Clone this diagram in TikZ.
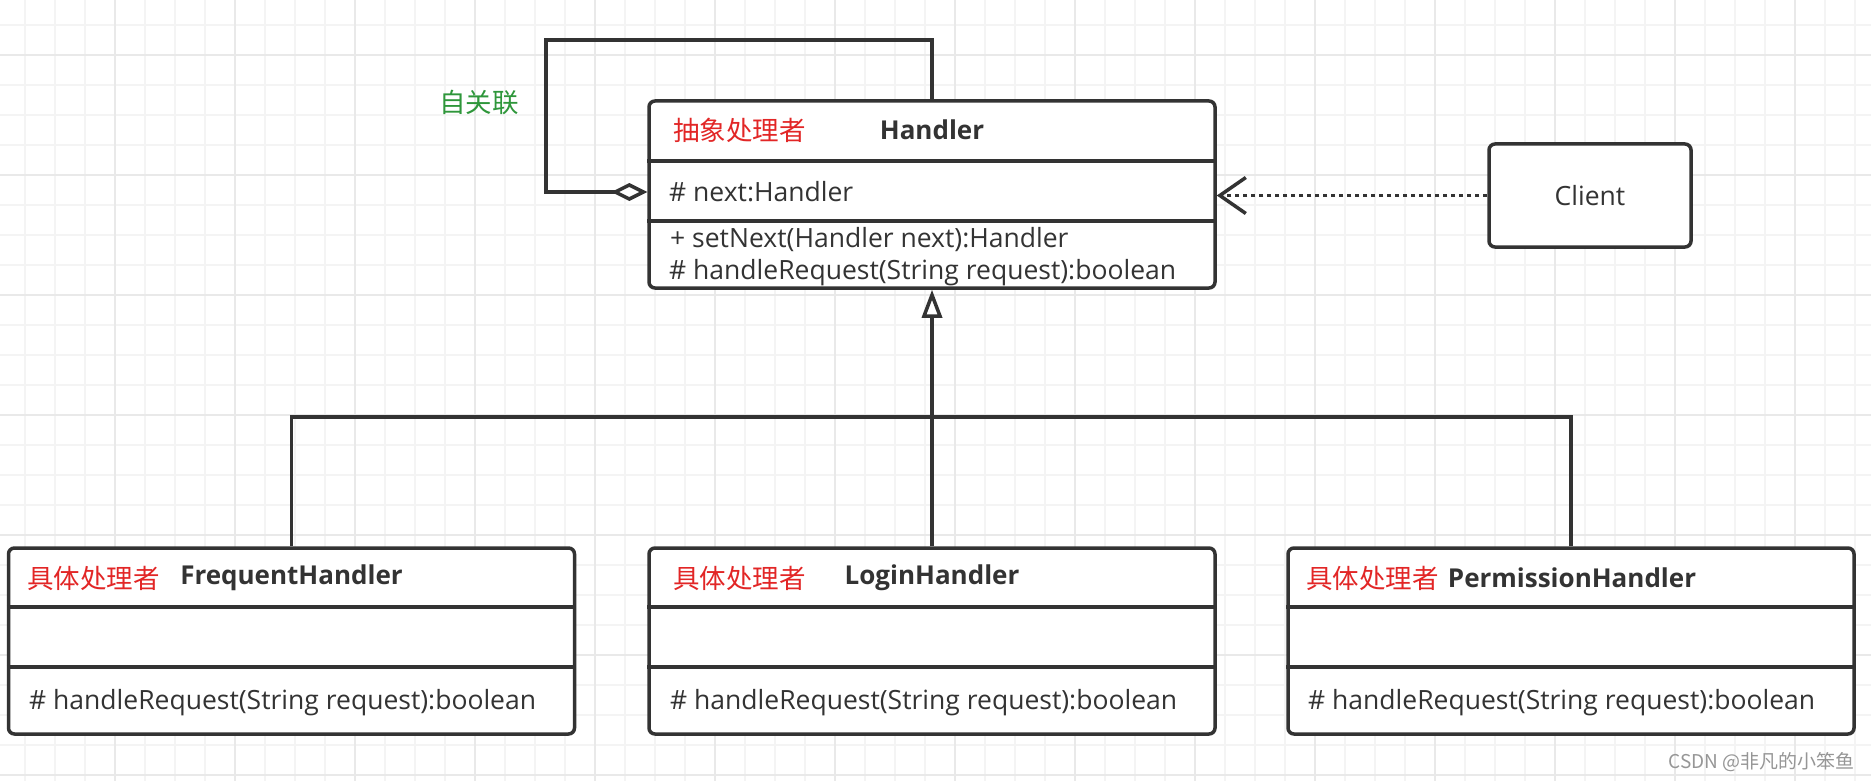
\documentclass[tikz,border=0pt]{standalone}
\usepackage{fontspec}
\setmainfont{Open Sans}
\newfontfamily\cjk{Noto Sans CJK SC}
\usetikzlibrary{arrows.meta,positioning,calc}
\definecolor{linegray}{RGB}{51,51,51}
\definecolor{labelred}{RGB}{226,38,38}
\definecolor{labelgreen}{RGB}{46,150,58}
\definecolor{gridminor}{RGB}{244,244,244}
\definecolor{gridmajor}{RGB}{233,233,233}
\definecolor{markgray}{RGB}{150,150,150}

\tikzset{
  classbox/.style={draw=linegray, line width=3.5pt, rounded corners=6pt, fill=white,
    minimum width=566pt, minimum height=187pt, inner sep=0pt},
  clientbox/.style={draw=linegray, line width=3.5pt, rounded corners=6pt, fill=white,
    minimum width=202pt, minimum height=103pt, inner sep=0pt, text=linegray,
    font=\fontsize{26.5}{32}\selectfont},
  divider/.style={draw=linegray, line width=3.5pt},
  kindlabel/.style={anchor=west, inner sep=0pt, text=labelred, font=\cjk\fontsize{26.5}{32}\selectfont},
  classname/.style={inner sep=0pt, text=linegray, font=\bfseries\fontsize{26}{32}\selectfont},
  member/.style={anchor=west, inner sep=0pt, text=linegray, font=\fontsize{26.5}{32}\selectfont},
  connector/.style={draw=linegray, line width=3.5pt},
}

\begin{document}
\begin{tikzpicture}[x=1pt, y=-1pt]
    \useasboundingbox (0,0) rectangle (1871,781);
    % Background grid
    \fill[white] (0,0) rectangle (1871,781);
    \foreach \gx in {25,55,...,1855} \draw[gridminor, line width=1.5pt] (\gx,0) -- (\gx,781);
    \foreach \gy in {25,55,...,775} \draw[gridminor, line width=1.5pt] (0,\gy) -- (1871,\gy);
    \foreach \gx in {115,235,...,1795} \draw[gridmajor, line width=1.5pt] (\gx,0) -- (\gx,781);
    \foreach \gy in {55,175,...,775} \draw[gridmajor, line width=1.5pt] (0,\gy) -- (1871,\gy);

    % Abstract handler
    \node[classbox] (handler) at (932,194.5) {};
    \draw[divider] (handler.west |- 0,161) -- (handler.east |- 0,161);
    \draw[divider] (handler.west |- 0,221) -- (handler.east |- 0,221);
    \node[kindlabel] (handlerKind) at (673,130) {抽象处理者};
    \node[classname] (handlerName) at (932,130) {Handler};
    \node[member] (handlerNext) at (669,192) {\# next:Handler};
    \node[member] (handlerSet) at (670,240) {+ setNext(Handler next):Handler};
    \node[member] (handlerReq) at (669,273) {\# handleRequest(String request):boolean};

    % Client
    \node[clientbox] (client) at (1590,195.5) {Client};

    % Concrete handlers
    \node[classbox, minimum height=186pt] (frequent) at (291.5,641) {};
    \draw[divider] (frequent.west |- 0,607) -- (frequent.east |- 0,607);
    \draw[divider] (frequent.west |- 0,667) -- (frequent.east |- 0,667);
    \node[kindlabel] (frequentKind) at (27,578) {具体处理者};
    \node[classname] (frequentName) at (291.5,578) {FrequentHandler};
    \node[member] (frequentReq) at (29,703) {\# handleRequest(String request):boolean};

    \node[classbox, minimum height=186pt] (login) at (932,641) {};
    \draw[divider] (login.west |- 0,607) -- (login.east |- 0,607);
    \draw[divider] (login.west |- 0,667) -- (login.east |- 0,667);
    \node[kindlabel] (loginKind) at (673,578) {具体处理者};
    \node[classname] (loginName) at (932,578) {LoginHandler};
    \node[member] (loginReq) at (670,703) {\# handleRequest(String request):boolean};

    \node[classbox, minimum height=186pt] (permission) at (1571,641) {};
    \draw[divider] (permission.west |- 0,607) -- (permission.east |- 0,607);
    \draw[divider] (permission.west |- 0,667) -- (permission.east |- 0,667);
    \node[kindlabel] (permissionKind) at (1306,578) {具体处理者};
    \node[classname] (permissionName) at (1572,578) {PermissionHandler};
    \node[member] (permissionReq) at (1308,703) {\# handleRequest(String request):boolean};

    % Self association
    \coordinate (loopTop) at (546,40);
    \draw[connector, -{Diamond[fill=white, length=36pt, width=18pt]}]
        (handler.north) |- (loopTop) |- (handler.west |- handlerNext);
    \node[inner sep=0pt, text=labelgreen, font=\cjk\fontsize{26.5}{32}\selectfont] (loopLabel) at (479,103) {自关联};

    % Dependency
    \draw[connector, dash pattern=on 4pt off 4pt, -{Straight Barb[length=26pt, width=36pt]}]
        (client.west) -- (handler.east |- client.west);

    % Generalisation
    \coordinate (junction) at (932,417);
    \draw[connector, -{Triangle[fill=white, length=28pt, width=20pt]}] (login.north) -- (handler.south);
    \draw[connector] (frequent.north) |- (junction) -| (permission.north);

    % Watermark
    \node[anchor=east, inner sep=0pt, text=markgray, font=\cjk\fontsize{19}{22}\selectfont] (mark) at (1855,762) {CSDN @非凡的小笨鱼};
\end{tikzpicture}
\end{document}
